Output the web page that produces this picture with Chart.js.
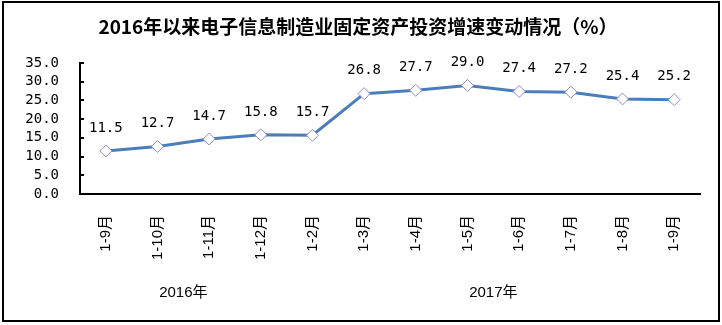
<!DOCTYPE html>
<html>
<head>
<meta charset="utf-8">
<script src="https://cdn.jsdelivr.net/npm/chart.js@4"></script>
<style>
    body { margin: 0; background: #fff; }
    #wrap { position: relative; width: 722px; height: 325px; }
    #frame {
        position: absolute; left: 2px; top: 1px; width: 718px; height: 321px;
        border: 2px solid #000; box-sizing: border-box; pointer-events: none;
    }
</style>
</head>
<body>
<div id="wrap">
    <canvas id="chart" width="722" height="325"></canvas>
    <div id="frame"></div>
</div>
<script>
const titleText = "2016年以来电子信息制造业固定资产投资增速变动情况（%）";
const months = ["1-9月", "1-10月", "1-11月", "1-12月", "1-2月", "1-3月", "1-4月", "1-5月", "1-6月", "1-7月", "1-8月", "1-9月"];
const growth = [11.5, 12.7, 14.7, 15.8, 15.7, 26.8, 27.7, 29.0, 27.4, 27.2, 25.4, 25.2];
const yearNames = ["2016年", "2017年"];
const yearSpans = [[0, 3], [4, 11]]; // first and last month index of each year
const yTicks = [0, 5, 10, 15, 20, 25, 30, 35];

// value labels above each point
const valueLabels = {
    id: "valueLabels",
    afterDatasetsDraw(chart) {
        const ctx = chart.ctx;
        const pts = chart.getDatasetMeta(0).data;
        ctx.save();
        ctx.font = "14px 'DejaVu Sans Mono'";
        ctx.fillStyle = "#000";
        ctx.textAlign = "center";
        ctx.textBaseline = "middle";
        pts.forEach((p, i) => {
            ctx.fillText(growth[i].toFixed(1), p.x, p.y - 23);
        });
        ctx.restore();
    }
};

// title, small tick marks pointing into the plot, and the year names
const extras = {
    id: "extras",
    afterDraw(chart) {
        const ctx = chart.ctx;
        const x = chart.scales.x, y = chart.scales.y;
        ctx.save();
        ctx.fillStyle = "#000";
        ctx.textAlign = "center";
        ctx.textBaseline = "middle";
        ctx.font = "bold 19px 'Noto Sans CJK SC'";
        ctx.fillText(titleText, 358, 27);

        ctx.strokeStyle = "#000";
        ctx.lineWidth = 2;
        y.ticks.forEach(t => {
            const py = Math.round(y.getPixelForValue(t.value));
            ctx.beginPath();
            ctx.moveTo(y.right, py);
            ctx.lineTo(y.right + 4, py);
            ctx.stroke();
        });

        ctx.font = "15px 'Liberation Sans', 'Noto Sans CJK SC'";
        yearSpans.forEach((s, i) => {
            const cx = (x.getPixelForValue(s[0]) + x.getPixelForValue(s[1])) / 2;
            ctx.fillText(yearNames[i], cx, 293);
        });
        ctx.restore();
    }
};

new Chart(document.getElementById("chart"), {
    type: "line",
    data: {
        labels: months,
        datasets: [{
            data: growth,
            borderColor: "#4A7EBB",
            borderWidth: 3,
            tension: 0,
            pointStyle: "rectRot",
            pointRadius: 6,
            pointBackgroundColor: "#fff",
            pointBorderColor: "#8C8CC8",
            pointBorderWidth: 1
        }]
    },
    options: {
        responsive: false,
        animation: false,
        layout: { padding: { left: 0, right: 22, top: 63, bottom: 0 } },
        plugins: {
            legend: { display: false },
            tooltip: { enabled: false },
            title: { display: false }
        },
        scales: {
            x: {
                offset: true,
                grid: { display: false },
                border: { color: "#000", width: 2 },
                ticks: {
                    color: "#000",
                    font: { family: "'Liberation Sans', 'Noto Sans CJK SC'", size: 15 },
                    minRotation: 90,
                    maxRotation: 90,
                    autoSkip: false,
                    padding: 13
                },
                afterFit(s) { s.height = 131; }
            },
            y: {
                min: 0,
                max: 35,
                afterBuildTicks(s) { s.ticks = yTicks.map(v => ({ value: v })); },
                grid: { display: false, drawTicks: false },
                border: { color: "#000", width: 2 },
                ticks: {
                    color: "#000",
                    font: { family: "'DejaVu Sans Mono'", size: 14 },
                    padding: 21,
                    autoSkip: false,
                    callback: v => v.toFixed(1)
                },
                afterFit(s) { s.width = 80; }
            }
        }
    },
    plugins: [valueLabels, extras]
});
</script>
</body>
</html>
